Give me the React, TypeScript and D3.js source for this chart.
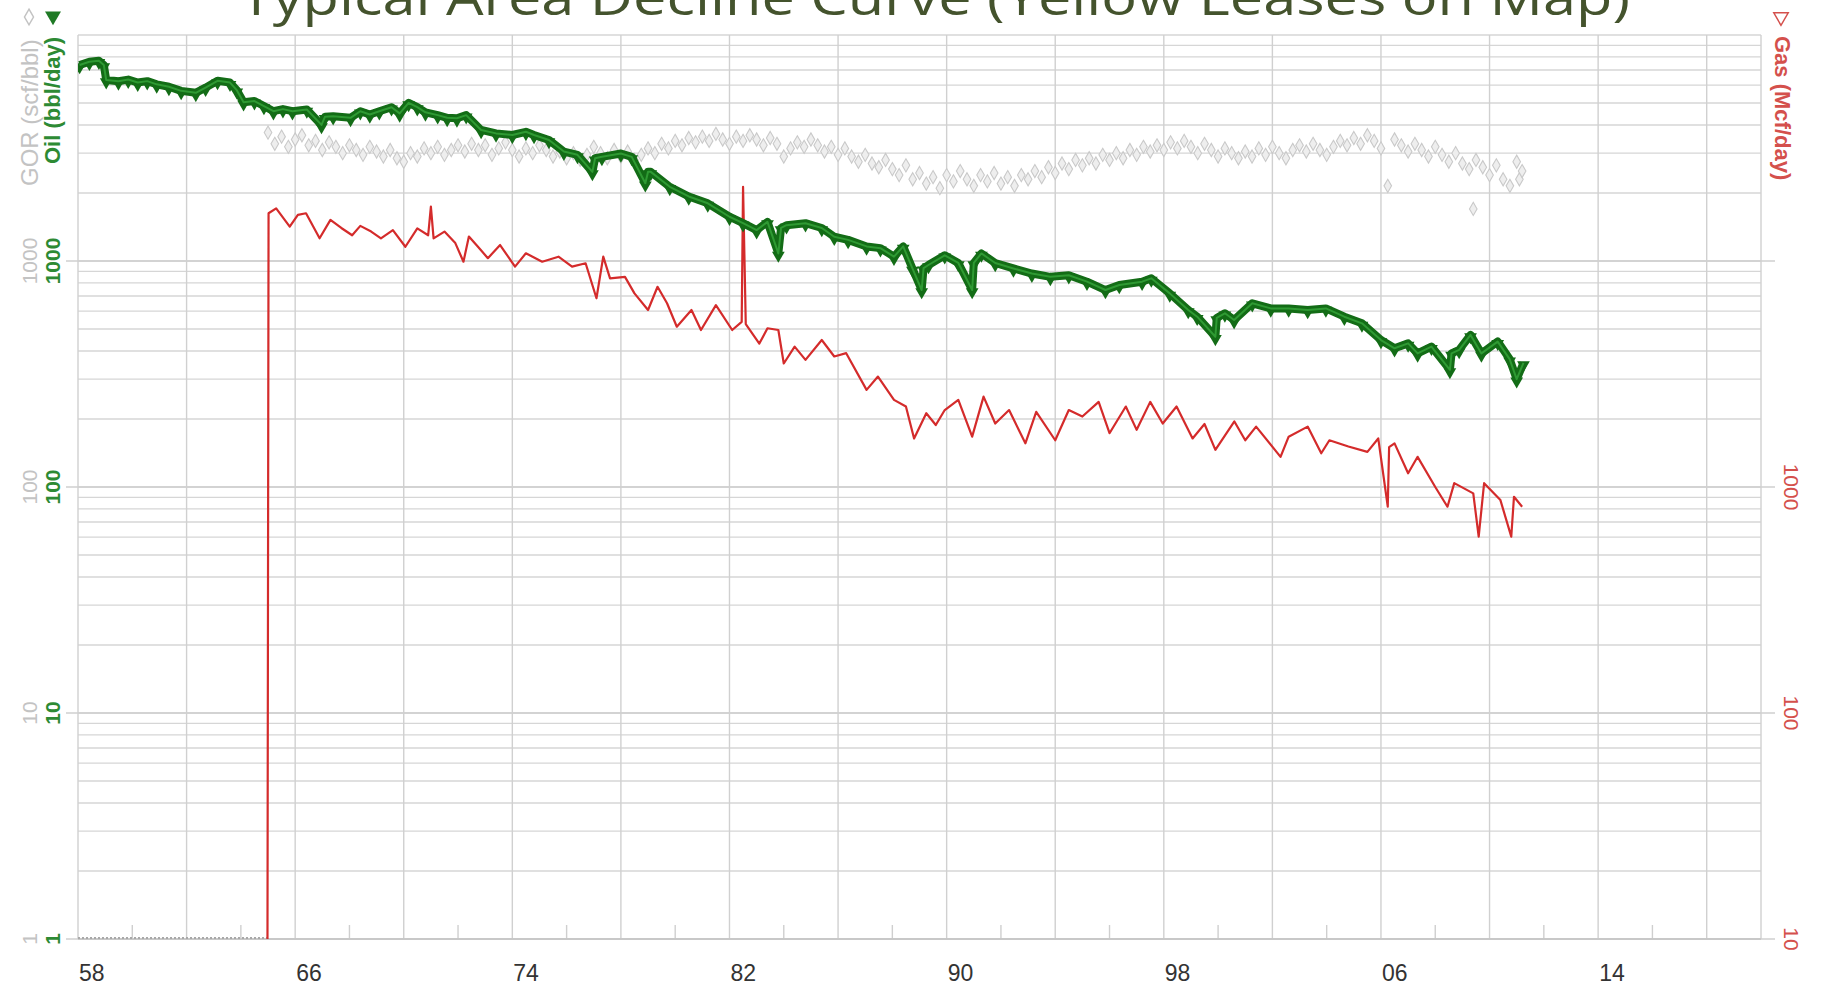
import React, { useEffect, useRef } from "react";
import * as d3 from "d3";

// Oil rate (bbl/day)
const oilYears = [
  1958.06, 1958.42, 1958.77, 1958.95, 1959.04, 1959.49, 1959.85, 1960.2, 1960.55, 1960.9,
  1961.35, 1961.8, 1962.34, 1962.7, 1963.14, 1963.6, 1963.85, 1964.1, 1964.5, 1964.85,
  1965.2, 1965.55, 1965.9, 1966.43, 1966.97, 1967.1, 1967.4, 1968.04, 1968.4, 1968.75,
  1969.1, 1969.55, 1969.85, 1970.18, 1970.5, 1970.8, 1971.25, 1971.6, 1971.96, 1972.3,
  1972.85, 1973.4, 1974.0, 1974.5, 1974.8, 1975.35, 1975.9, 1976.4, 1976.95, 1977.05,
  1977.3, 1978.0, 1978.4, 1978.9, 1979.0, 1979.1, 1979.8, 1980.5, 1981.2, 1982.0,
  1982.5, 1983.0, 1983.4, 1983.8, 1983.9, 1984.1, 1984.8, 1985.4, 1985.86, 1986.37,
  1987.05, 1987.56, 1988.06, 1988.4, 1988.74, 1989.08, 1989.15, 1989.33, 1989.93, 1990.43,
  1990.94, 1991.0, 1991.28, 1991.79, 1992.46, 1993.14, 1993.82, 1994.5, 1995.17, 1995.85,
  1996.36, 1997.2, 1997.54, 1998.22, 1998.9, 1999.23, 1999.9, 1999.95, 2000.25, 2000.59,
  2001.26, 2001.94, 2002.6, 2003.3, 2003.97, 2004.65, 2005.3, 2006.0, 2006.5, 2007.0,
  2007.35, 2007.86, 2008.54, 2008.6, 2008.88, 2009.3, 2009.7, 2010.3, 2010.74, 2011.0,
  2011.25,
];
const oilRates = [
  7370, 7620, 7700, 7370, 6320, 6240, 6350, 6160, 6250, 6050,
  5900, 5660, 5550, 5850, 6270, 6160, 5700, 5040, 5100, 4850,
  4600, 4700, 4600, 4680, 4000, 4350, 4370, 4300, 4600, 4450,
  4600, 4790, 4500, 5010, 4800, 4550, 4420, 4300, 4280, 4420,
  3800, 3670, 3610, 3730, 3610, 3430, 3050, 2950, 2480, 2850,
  2890, 2990, 2890, 2210, 2480, 2480, 2130, 1930, 1800, 1570,
  1470, 1370, 1490, 1080, 1400, 1440, 1470, 1400, 1280, 1240,
  1160, 1140, 1045, 1160, 927, 744, 930, 960, 1060, 980,
  744, 980, 1080, 980, 927, 880, 851, 865, 810, 744,
  783, 810, 838, 719, 607, 567, 462, 560, 587, 548,
  650, 617, 617, 607, 617, 567, 530, 447, 411, 432,
  390, 418, 330, 390, 404, 471, 390, 440, 368, 300,
  354,
];

// Gas rate (Mcf/day), red curve on the right axis
const gasYears = [
  1964.98, 1965.0, 1965.02, 1965.3, 1965.8, 1966.1, 1966.4, 1966.9, 1967.3, 1967.7,
  1968.1, 1968.4, 1968.8, 1969.16, 1969.6, 1970.06, 1970.5, 1970.9, 1971.0, 1971.1,
  1971.5, 1971.9, 1972.2, 1972.4, 1972.75, 1973.1, 1973.55, 1974.1, 1974.5, 1975.1,
  1975.7, 1976.2, 1976.7, 1977.1, 1977.35, 1977.6, 1978.15, 1978.5, 1979.0, 1979.35,
  1979.7, 1980.06, 1980.6, 1980.95, 1981.5, 1982.1, 1982.45, 1982.5, 1982.6, 1983.1,
  1983.4, 1983.8, 1984.0, 1984.4, 1984.8, 1985.4, 1985.86, 1986.3, 1987.05, 1987.47,
  1988.06, 1988.5, 1988.8, 1989.25, 1989.6, 1989.93, 1990.43, 1990.94, 1991.36, 1991.79,
  1992.3, 1992.9, 1993.3, 1994.0, 1994.5, 1995.0, 1995.6, 1996.0, 1996.6, 1997.0,
  1997.5, 1997.96, 1998.47, 1999.06, 1999.5, 1999.9, 2000.6, 2001.0, 2001.4, 2002.3,
  2002.6, 2003.3, 2003.8, 2004.1, 2004.8, 2005.5, 2005.9, 2006.25, 2006.3, 2006.5,
  2007.0, 2007.35, 2008.0, 2008.45, 2008.7, 2009.4, 2009.6, 2009.8, 2010.4, 2010.8,
  2010.9, 2011.2,
];
const gasRates = [
  10, 401, 16260, 17100, 14200, 16000, 16260, 12600, 15200, 14000,
  13000, 14300, 13500, 12600, 13700, 11560, 13940, 13000, 17400, 12600,
  13490, 12000, 9930, 12830, 11500, 10290, 11770, 9440, 10820, 9930,
  10450, 9440, 9770, 6840, 10450, 8380, 8510, 7190, 6070, 7690,
  6500, 5120, 6070, 4950, 6380, 4950, 5380, 21300, 5260, 4310,
  5040, 4950, 3520, 4180, 3650, 4470, 3780, 3910, 2690, 3080,
  2430, 2270, 1640, 2120, 1880, 2190, 2430, 1670, 2510, 1910,
  2190, 1560, 2150, 1610, 2190, 2050, 2380, 1730, 2270, 1790,
  2380, 1910, 2270, 1640, 1900, 1460, 1950, 1610, 1850, 1360,
  1670, 1850, 1410, 1610, 1510, 1430, 1640, 818, 1500, 1560,
  1150, 1360, 1000, 818, 1040, 937, 603, 1040, 875, 603,
  905, 818,
];

// Gas-oil ratio (scf/bbl), grey diamonds on the left axis
const gorYears = [
  1965.0, 1965.25, 1965.5, 1965.75, 1966.0, 1966.25, 1966.5, 1966.75, 1967.0, 1967.25,
  1967.5, 1967.75, 1968.0, 1968.25, 1968.5, 1968.75, 1969.0, 1969.25, 1969.5, 1969.75,
  1970.0, 1970.25, 1970.5, 1970.75, 1971.0, 1971.25, 1971.5, 1971.75, 1972.0, 1972.25,
  1972.5, 1972.75, 1973.0, 1973.25, 1973.5, 1973.75, 1974.0, 1974.25, 1974.5, 1974.75,
  1975.0, 1975.25, 1975.5, 1975.75, 1976.0, 1976.25, 1976.5, 1976.75, 1977.0, 1977.25,
  1977.5, 1977.75, 1978.0, 1978.25, 1978.5, 1978.75, 1979.0, 1979.25, 1979.5, 1979.75,
  1980.0, 1980.25, 1980.5, 1980.75, 1981.0, 1981.25, 1981.5, 1981.75, 1982.0, 1982.25,
  1982.5, 1982.75, 1983.0, 1983.25, 1983.5, 1983.75, 1984.0, 1984.25, 1984.5, 1984.75,
  1985.0, 1985.25, 1985.5, 1985.75, 1986.0, 1986.25, 1986.5, 1986.75, 1987.0, 1987.25,
  1987.5, 1987.75, 1988.0, 1988.25, 1988.5, 1988.75, 1989.0, 1989.25, 1989.5, 1989.75,
  1990.0, 1990.25, 1990.5, 1990.75, 1991.0, 1991.25, 1991.5, 1991.75, 1992.0, 1992.25,
  1992.5, 1992.75, 1993.0, 1993.25, 1993.5, 1993.75, 1994.0, 1994.25, 1994.5, 1994.75,
  1995.0, 1995.25, 1995.5, 1995.75, 1996.0, 1996.25, 1996.5, 1996.75, 1997.0, 1997.25,
  1997.5, 1997.75, 1998.0, 1998.25, 1998.5, 1998.75, 1999.0, 1999.25, 1999.5, 1999.75,
  2000.0, 2000.25, 2000.5, 2000.75, 2001.0, 2001.25, 2001.5, 2001.75, 2002.0, 2002.25,
  2002.5, 2002.75, 2003.0, 2003.25, 2003.5, 2003.75, 2004.0, 2004.25, 2004.5, 2004.75,
  2005.0, 2005.25, 2005.5, 2005.75, 2006.0, 2006.25, 2006.5, 2006.75, 2007.0, 2007.25,
  2007.5, 2007.75, 2008.0, 2008.25, 2008.5, 2008.75, 2009.0, 2009.25, 2009.4, 2009.5,
  2009.75, 2010.0, 2010.25, 2010.5, 2010.75, 2011.0, 2011.1, 2011.2,
];
const gorValues = [
  3700, 3300, 3550, 3200, 3450, 3600, 3250, 3400, 3100, 3350,
  3200, 3000, 3250, 3100, 2950, 3200, 3050, 2900, 3100, 2850,
  2750, 3000, 2900, 3150, 3000, 3200, 2950, 3100, 3250, 3050,
  3300, 3100, 3250, 2950, 3150, 3350, 3100, 2900, 3150, 3000,
  3250, 3100, 2900, 3050, 2850, 3000, 2800, 2950, 3200, 3000,
  2850, 3100, 2900, 3050, 2800, 2950, 3150, 3000, 3300, 3150,
  3400, 3250, 3500, 3350, 3550, 3400, 3650, 3450, 3300, 3550,
  3400, 3600, 3450, 3250, 3500, 3300, 2900, 3150, 3350, 3200,
  3450, 3250, 3050, 3200, 2950, 3150, 2900, 2750, 2950, 2700,
  2600, 2800, 2550, 2400, 2650, 2300, 2450, 2200, 2350, 2100,
  2400, 2250, 2500, 2300, 2150, 2400, 2250, 2450, 2200, 2350,
  2150, 2400, 2300, 2500, 2350, 2600, 2450, 2700, 2550, 2800,
  2650, 2850, 2700, 2950, 2800, 3000, 2850, 3100, 2950, 3200,
  3050, 3250, 3100, 3350, 3150, 3400, 3200, 3000, 3300, 3100,
  2900, 3150, 3000, 2850, 3050, 2900, 3150, 2950, 3200, 3000,
  2850, 3100, 3250, 3050, 3300, 3100, 2950, 3200, 3400, 3250,
  3500, 3300, 3600, 3400, 3150, 2150, 3450, 3250, 3050, 3300,
  3100, 2900, 3200, 2950, 2750, 3000, 2700, 2550, 1700, 2800,
  2600, 2400, 2650, 2300, 2150, 2750, 2300, 2500,
];

// years before first production, shown as zero rate on the bottom line
const noProdYears = [1958, 1964.98];

const xTickYears = [1958, 1966, 1974, 1982, 1990, 1998, 2006, 2014];
const xTickLabels = ["58", "66", "74", "82", "90", "98", "06", "14"];
const leftTicks = [1, 10, 100, 1000];
const rightTicks = [10, 100, 1000];

const W = 1826;
const H = 988;

const App = () => {
  const svgRef = useRef<SVGSVGElement>(null);

  useEffect(() => {
    const svg = d3.select(svgRef.current);
    svg.selectAll("*").remove();

    const left = 78;
    const right = 1761;
    const top = 35;
    const bottom = 939;
    const font = "'Liberation Sans', Arial, sans-serif";

    const x = d3.scaleLinear().domain([1958, 2020]).range([left, right]);
    const yOil = d3.scaleLog().domain([1, 10000]).range([bottom, top]);
    const yGas = d3.scaleLog().domain([10, 100000]).range([bottom, top]);

    svg.append("rect").attr("width", W).attr("height", H).attr("fill", "#fff");

    // horizontal log grid
    const grid = svg.append("g");
    grid
      .selectAll("line.h")
      .data(yOil.ticks())
      .enter()
      .append("line")
      .attr("x1", left)
      .attr("x2", right)
      .attr("y1", (d) => yOil(d))
      .attr("y2", (d) => yOil(d))
      .attr("stroke", "#d6d6d6")
      .attr("stroke-width", 1.4);

    // major lines poke out a little on both sides
    grid
      .selectAll("line.major")
      .data(leftTicks)
      .enter()
      .append("line")
      .attr("x1", left - 12)
      .attr("x2", right + 14)
      .attr("y1", (d) => yOil(d))
      .attr("y2", (d) => yOil(d))
      .attr("stroke", "#cfcfcf")
      .attr("stroke-width", 1.4);

    // vertical grid every 4 years
    grid
      .selectAll("line.v")
      .data(d3.range(1958, 2020, 4).concat([2020]))
      .enter()
      .append("line")
      .attr("x1", (d) => x(d))
      .attr("x2", (d) => x(d))
      .attr("y1", top)
      .attr("y2", bottom)
      .attr("stroke", "#d0d0d0")
      .attr("stroke-width", 1.4);

    // minor ticks on the time axis
    grid
      .selectAll("line.mt")
      .data(d3.range(1960, 2020, 4))
      .enter()
      .append("line")
      .attr("x1", (d) => x(d))
      .attr("x2", (d) => x(d))
      .attr("y1", bottom - 14)
      .attr("y2", bottom)
      .attr("stroke", "#cfcfcf")
      .attr("stroke-width", 1.4);

    grid
      .append("line")
      .attr("x1", left)
      .attr("x2", right)
      .attr("y1", bottom)
      .attr("y2", bottom)
      .attr("stroke", "#c4c4c4")
      .attr("stroke-width", 1.6);

    // clip curves to the plot
    svg
      .append("clipPath")
      .attr("id", "plot-clip")
      .append("rect")
      .attr("x", left)
      .attr("y", top)
      .attr("width", right - left)
      .attr("height", bottom - top + 2);

    const plot = svg.append("g").attr("clip-path", "url(#plot-clip)");

    // zero-rate stretch before production
    plot
      .append("line")
      .attr("x1", x(noProdYears[0]))
      .attr("x2", x(noProdYears[1]))
      .attr("y1", yOil(1) - 1)
      .attr("y2", yOil(1) - 1)
      .attr("stroke", "#a8a8a8")
      .attr("stroke-width", 2)
      .attr("stroke-dasharray", "2,2");

    // GOR diamonds
    const diamond = d3.symbol().type(d3.symbolDiamond).size(50);
    plot
      .selectAll("path.gor")
      .data(gorYears.map((yr, i) => [yr, gorValues[i]]))
      .enter()
      .append("path")
      .attr("d", diamond)
      .attr("transform", (d) => `translate(${x(d[0])},${yOil(d[1])})`)
      .attr("fill", "#eeeeee")
      .attr("stroke", "#c9c9c9")
      .attr("stroke-width", 1.1);

    // Gas line
    const gasLine = d3
      .line<number>()
      .x((d, i) => x(gasYears[i]))
      .y((d) => yGas(d));
    plot
      .append("path")
      .datum(gasRates)
      .attr("fill", "none")
      .attr("stroke", "#d42b2b")
      .attr("stroke-width", 2.2)
      .attr("stroke-linejoin", "round")
      .attr("d", gasLine);

    // Oil line with triangle markers
    const oilLine = d3
      .line<number>()
      .x((d, i) => x(oilYears[i]))
      .y((d) => yOil(d));
    plot
      .append("path")
      .datum(oilRates)
      .attr("fill", "none")
      .attr("stroke", "#136c16")
      .attr("stroke-width", 8)
      .attr("stroke-linejoin", "round")
      .attr("d", oilLine);
    const tri = d3.symbol().type(d3.symbolTriangle).size(70);
    plot
      .selectAll("path.oil")
      .data(oilYears.map((yr, i) => [yr, oilRates[i]]))
      .enter()
      .append("path")
      .attr("d", tri)
      .attr("transform", (d) => `translate(${x(d[0])},${yOil(d[1]) + 2}) rotate(180)`)
      .attr("fill", "#136c16");
    plot
      .append("path")
      .datum(oilRates)
      .attr("fill", "none")
      .attr("stroke", "#2f9a33")
      .attr("stroke-width", 2)
      .attr("stroke-linejoin", "round")
      .attr("d", oilLine);

    // title, clipped by the top of the page as in the original
    svg
      .append("text")
      .attr("x", 935)
      .attr("y", 15)
      .attr("text-anchor", "middle")
      .attr("textLength", 1390)
      .attr("lengthAdjust", "spacingAndGlyphs")
      .style("font-family", "'Open Sans', 'Noto Sans', sans-serif")
      .style("font-size", "50px")
      .style("fill", "#44532d")
      .text("Typical Area Decline Curve (Yellow Leases on Map)");

    // time axis labels
    svg
      .selectAll("text.xt")
      .data(xTickYears)
      .enter()
      .append("text")
      .attr("x", (d) => x(d) + 1)
      .attr("y", 981)
      .style("font-family", font)
      .style("font-size", "23px")
      .style("fill", "#333")
      .text((d, i) => xTickLabels[i]);

    // rotated text helper
    const vText = (g, tx, ty, angle, txt, color, weight, anchor = "middle", size = 21) =>
      g
        .append("text")
        .attr("transform", `translate(${tx},${ty}) rotate(${angle})`)
        .attr("text-anchor", anchor)
        .attr("dominant-baseline", "central")
        .style("font-family", font)
        .style("font-size", `${size}px`)
        .style("font-weight", weight)
        .style("fill", color)
        .text(txt);

    leftTicks.forEach((t) => {
      vText(svg, 29, yOil(t), -90, String(t), "#c3c3c3", "normal");
      vText(svg, 52, yOil(t), -90, String(t), "#2d8a34", "bold");
    });
    rightTicks.forEach((t) => {
      vText(svg, 1791, yGas(t), 90, String(t), "#d4504c", "normal");
    });

    // axis titles
    vText(svg, 29, 186, -90, "GOR (scf/bbl)", "#c3c3c3", "normal", "start", 24);
    vText(svg, 52, 164, -90, "Oil (bbl/day)", "#2d8a34", "bold", "start", 22);
    vText(svg, 1782, 36, 90, "Gas (Mcf/day)", "#d4504c", "bold", "start", 22);

    svg
      .append("path")
      .attr("d", d3.symbol().type(d3.symbolDiamond).size(70)())
      .attr("transform", "translate(29,17)")
      .attr("fill", "none")
      .attr("stroke", "#c3c3c3")
      .attr("stroke-width", 1.5);
    svg
      .append("path")
      .attr("d", d3.symbol().type(d3.symbolTriangle).size(110)())
      .attr("transform", "translate(53,16) rotate(180)")
      .attr("fill", "#1f7a25");
    svg
      .append("path")
      .attr("d", d3.symbol().type(d3.symbolTriangle).size(90)())
      .attr("transform", "translate(1781,17) rotate(180)")
      .attr("fill", "none")
      .attr("stroke", "#d4504c")
      .attr("stroke-width", 1.5);
  }, []);

  return (
    <svg
      ref={svgRef}
      width={W}
      height={H}
      style={{ position: "absolute", left: 0, top: 0, display: "block" }}
    />
  );
};

export default App;
